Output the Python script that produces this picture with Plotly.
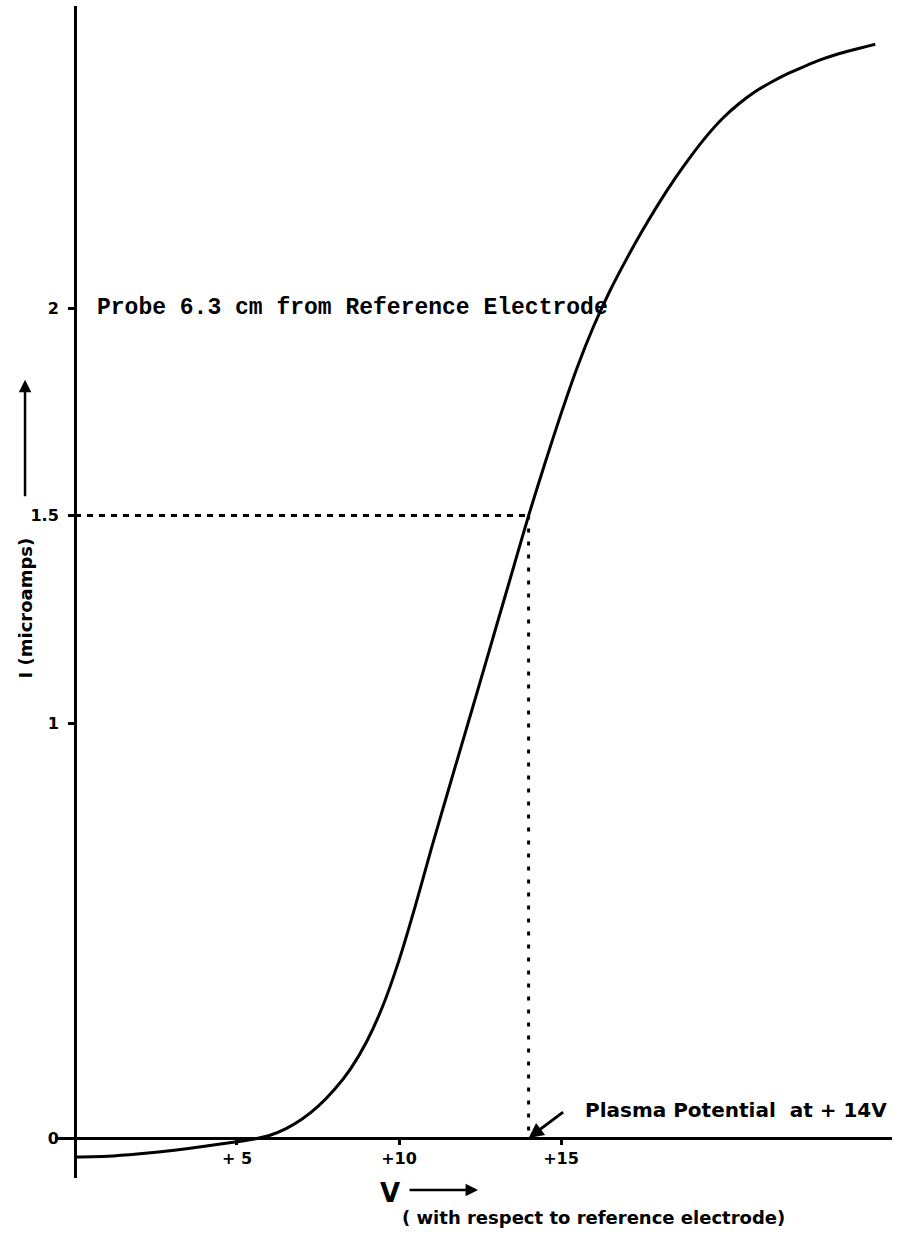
import plotly.graph_objects as go

# ---- data ----
voltage = [0, 1, 2, 3, 4, 5, 5.5, 6.0, 6.5, 7.0, 7.5, 8.0, 8.5, 9.0, 9.5, 10.0,
           10.5, 11.0, 11.5, 12.0, 12.5, 13.0, 13.5, 14.0, 14.5, 15.0, 15.5, 16.0,
           16.5, 17.0, 17.5, 18.0, 18.5, 19.0, 19.5, 20.0, 20.5, 21.0, 21.5, 22.0,
           22.5, 23.0, 23.5, 24.0, 24.5, 24.7]
current = [-0.046, -0.044, -0.038, -0.03, -0.02, -0.009, -0.003, 0.006, 0.022, 0.045,
           0.076, 0.116, 0.166, 0.232, 0.318, 0.428, 0.558, 0.698, 0.832, 0.965, 1.098,
           1.232, 1.366, 1.5, 1.625, 1.745, 1.857, 1.955, 2.04, 2.115, 2.185, 2.25,
           2.31, 2.365, 2.415, 2.458, 2.493, 2.522, 2.545, 2.565, 2.582, 2.598, 2.611,
           2.622, 2.632, 2.636]

plasma_potential = 14.0
plasma_current = 1.5

x_tickvals = [5, 10, 15]
x_ticktext = ["+ 5", "+10", "+15"]
y_tickvals = [0, 1, 1.5, 2]
y_ticktext = ["0", "1", "1.5", "2"]

x_range = [-0.617, 25.216]
y_range = [-0.0964, 2.728]

fig = go.Figure()

# guide lines
fig.add_trace(go.Scatter(x=[0, plasma_potential], y=[plasma_current, plasma_current],
                         mode="lines", line=dict(color="black", width=3, dash="6px,6px"),
                         showlegend=False, hoverinfo="skip"))
fig.add_trace(go.Scatter(x=[plasma_potential, plasma_potential], y=[plasma_current, 0],
                         mode="lines", line=dict(color="black", width=3, dash="4px,9px"),
                         showlegend=False, hoverinfo="skip"))
# I-V curve
fig.add_trace(go.Scatter(x=voltage, y=current, mode="lines",
                         line=dict(color="black", width=3, shape="spline", smoothing=0.6),
                         showlegend=False, hoverinfo="skip"))

ypos = (0 - y_range[0]) / (y_range[1] - y_range[0])
xpos = (0 - x_range[0]) / (x_range[1] - x_range[0])

hand = dict(family="DejaVu Sans", size=16, color="black", weight="bold")

fig.update_layout(
    width=898, height=1241,
    margin=dict(l=55, r=6, t=6, b=63),
    paper_bgcolor="white", plot_bgcolor="white",
    xaxis=dict(range=x_range, anchor="free", position=ypos, showline=True,
               linecolor="black", linewidth=3, showgrid=False, zeroline=False,
               tickvals=x_tickvals, ticktext=x_ticktext, ticks="outside",
               ticklen=5, tickwidth=2.5, tickcolor="black", tickfont=hand),
    yaxis=dict(range=y_range, anchor="free", position=xpos, showline=True,
               linecolor="black", linewidth=3, showgrid=False, zeroline=False,
               tickvals=y_tickvals, ticktext=y_ticktext, ticks="outside",
               ticklen=6, tickwidth=2.5, tickcolor="black", tickfont=hand,
               ticklabelstandoff=6),
)

# title text
fig.add_annotation(x=0.62, y=2.0, xref="x", yref="y", xanchor="left", yanchor="middle",
                   text="Probe 6.3 cm from Reference Electrode", showarrow=False,
                   font=dict(family="Liberation Mono", size=23, color="black", weight="bold"))

# plasma potential note
fig.add_annotation(x=15.68, y=0.067, xref="x", yref="y", xanchor="left", yanchor="middle",
                   text="Plasma Potential  at + 14V", showarrow=False,
                   font=dict(family="DejaVu Sans", size=20, color="black", weight="bold"))
fig.add_annotation(x=plasma_potential, y=0, xref="x", yref="y", text="", showarrow=True,
                   ax=36, ay=-27, arrowhead=2, arrowsize=1, arrowwidth=3, arrowcolor="black")

# x-axis label
fig.add_annotation(x=9.72, y=-0.0128, xref="x", yref="paper", yanchor="middle", text="V",
                   showarrow=False,
                   font=dict(family="DejaVu Sans", size=26, color="black", weight="bold"))
fig.add_annotation(x=12.44, y=-0.0102, xref="x", yref="paper", text="", showarrow=True,
                   ax=-70, ay=0, arrowhead=2, arrowsize=1, arrowwidth=2.5, arrowcolor="black")
fig.add_annotation(x=0.412, y=-0.0341, xref="paper", yref="paper", xanchor="left",
                   yanchor="middle",
                   text="( with respect to reference electrode)", showarrow=False,
                   font=dict(family="DejaVu Sans", size=18, color="black", weight="bold"))

# y-axis label
fig.add_annotation(x=-0.0358, y=0.486, xref="paper", yref="paper", textangle=-90,
                   yanchor="middle", xanchor="center",
                   text="I (microamps)", showarrow=False,
                   font=dict(family="DejaVu Sans", size=18, color="black", weight="bold"))
fig.add_annotation(x=-0.0358, y=0.681, xref="paper", yref="paper", text="", showarrow=True,
                   ax=0, ay=118, arrowhead=2, arrowsize=1, arrowwidth=2.5, arrowcolor="black")

fig.write_html("out.html", post_script="document.body.style.margin='0';",
               config={"displayModeBar": False})
